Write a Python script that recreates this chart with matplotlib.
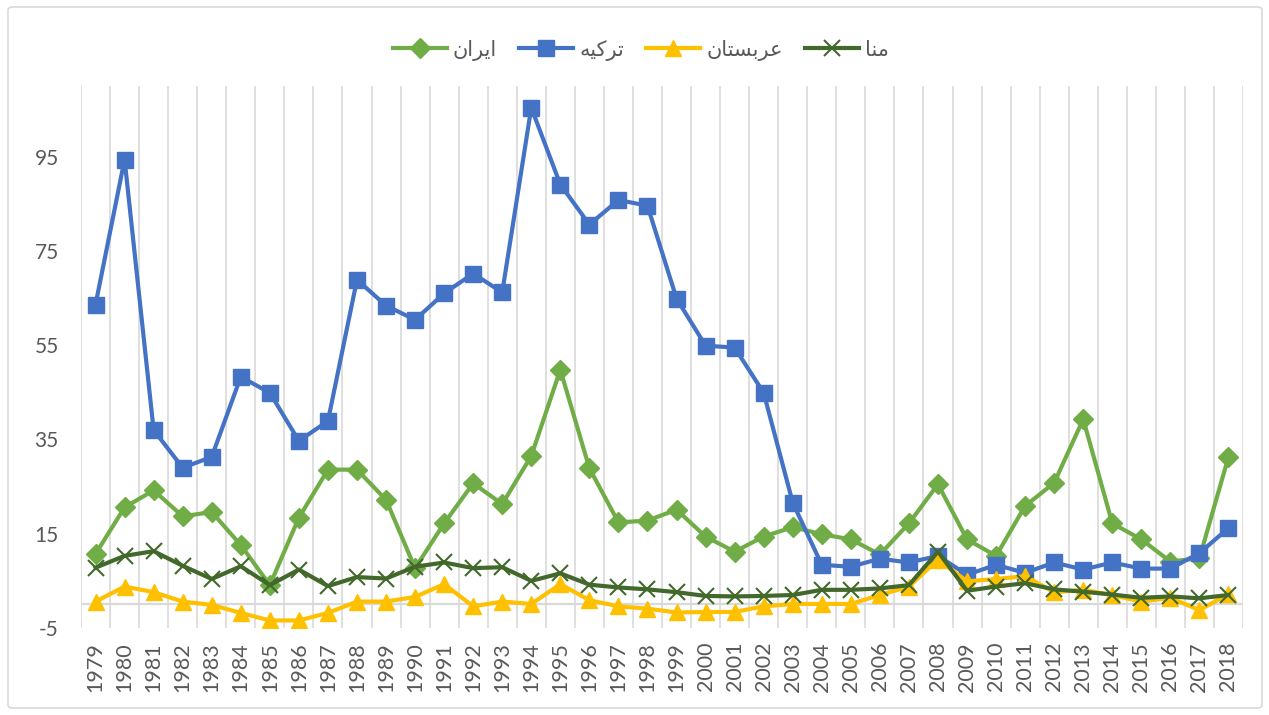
import matplotlib
matplotlib.use("Agg")
import matplotlib.pyplot as plt
import numpy as np
from matplotlib.patches import FancyBboxPatch

plt.rcParams['font.family'] = ['Lato', 'DejaVu Sans']

years = [str(y) for y in range(1979, 2019)]

iran = [10.7, 20.6, 24.2, 18.7, 19.6, 12.6, 4.1, 18.4, 28.6, 28.6,
        22.2, 7.7, 17.2, 25.7, 21.3, 31.5, 49.8, 28.9, 17.4, 17.8,
        20.1, 14.4, 11.2, 14.4, 16.4, 14.9, 13.8, 10.6, 17.2, 25.5,
        13.8, 10.3, 20.9, 25.8, 39.3, 17.2, 13.8, 9.1, 9.8, 31.3]

turkey = [63.6, 94.4, 37.0, 29.0, 31.3, 48.3, 44.9, 34.7, 38.9, 68.9,
          63.4, 60.4, 66.0, 70.2, 66.2, 105.4, 89.1, 80.6, 85.8, 84.6,
          64.9, 54.9, 54.5, 44.9, 21.6, 8.4, 8.0, 9.7, 8.9, 10.3,
          6.3, 8.4, 6.7, 8.9, 7.4, 8.9, 7.6, 7.6, 10.9, 16.2]

saudi = [0.6, 3.8, 2.6, 0.6, -0.1, -1.8, -3.4, -3.4, -1.8, 0.6,
         0.6, 1.6, 4.3, -0.4, 0.6, 0.1, 4.3, 0.9, -0.4, -0.9,
         -1.7, -1.6, -1.6, -0.4, 0.1, 0.1, 0.1, 2.0, 3.8, 9.5,
         4.9, 5.4, 6.0, 2.6, 3.1, 2.0, 0.6, 1.4, -1.2, 2.2]

mena = [7.8, 10.3, 11.3, 8.2, 5.4, 8.1, 4.1, 7.4, 3.9, 5.8,
        5.5, 8.0, 8.9, 7.7, 7.9, 5.0, 6.6, 4.2, 3.6, 3.2,
        2.6, 1.8, 1.7, 1.8, 2.0, 3.1, 3.1, 3.4, 4.1, 11.2,
        2.9, 3.8, 4.5, 3.2, 2.7, 2.1, 1.4, 1.7, 1.3, 2.0]

# Legend labels (Persian), written in shaped presentation forms, visual order
lab_iran = "\uFEE5\uFE8D\uFEAE\uFBFE\uFE8D"            # ایران
lab_turkey = "\uFEEA\uFBFF\uFB90\uFEAE\uFE97"          # ترکیه
lab_saudi = "\uFEE5\uFE8E\uFE98\uFEB4\uFE91\uFEAE\uFECB"  # عربستان
lab_mena = "\uFE8E\uFEE8\uFEE3"                        # منا

yticks = [-5, 15, 35, 55, 75, 95]

fig = plt.figure(figsize=(12.69, 7.15), dpi=100)
ax = fig.add_axes([81/1269, 1-628/715, (1243-81)/1269, (628-86)/715])

x = np.arange(len(years))

ax.plot(x, iran, color='#70AD47', lw=3, marker='D', ms=10, mec='#70AD47',
        label=lab_iran, zorder=3, solid_joinstyle='round')
ax.plot(x, turkey, color='#4472C4', lw=3, marker='s', ms=12, mec='#4472C4',
        label=lab_turkey, zorder=4, solid_joinstyle='round')
ax.plot(x, saudi, color='#FFC000', lw=3, marker='^', ms=12, mec='#FFC000',
        label=lab_saudi, zorder=5, solid_joinstyle='round')
ax.plot(x, mena, color='#43682B', lw=3, marker='x', ms=12, mew=1.5,
        mec='#43682B', label=lab_mena, zorder=6, solid_joinstyle='round')

ax.set_xlim(-0.5, len(years) - 0.5)
ax.set_ylim(-5, 110)
ax.set_yticks(yticks)
ax.set_yticklabels([str(v) for v in yticks])
ax.set_xticks(x)
ax.set_xticklabels(years, rotation=90)
ax.set_xticks(np.arange(-0.5, len(years), 1), minor=True)
ax.grid(True, axis='x', which='minor', color='#D9D9D9', lw=1.2, zorder=0)
ax.grid(False, axis='x', which='major')
ax.axhline(0, color='#D9D9D9', lw=1.6, zorder=1)
ax.tick_params(axis='both', which='both', length=0, colors='#595959')
ax.tick_params(axis='y', labelsize=15, pad=16)
ax.tick_params(axis='x', labelsize=15.5, pad=10)
for s in ax.spines.values():
    s.set_visible(False)

leg = fig.legend(loc='center', bbox_to_anchor=(0.505, 0.930), ncol=4,
                 frameon=False, handlelength=2.6,
                 columnspacing=1.05, handletextpad=0.3,
                 prop={'family': ['DejaVu Sans'], 'size': 15})
for t in leg.get_texts():
    t.set_color('#595959')

border = FancyBboxPatch((8/1269, 7/715), 1254/1269, 701/715,
                        boxstyle='round,pad=0,rounding_size=0.004',
                        transform=fig.transFigure, fill=False,
                        edgecolor='#D9D9D9', lw=1.2)
fig.patches.append(border)

fig.savefig('out.png', dpi=100)
